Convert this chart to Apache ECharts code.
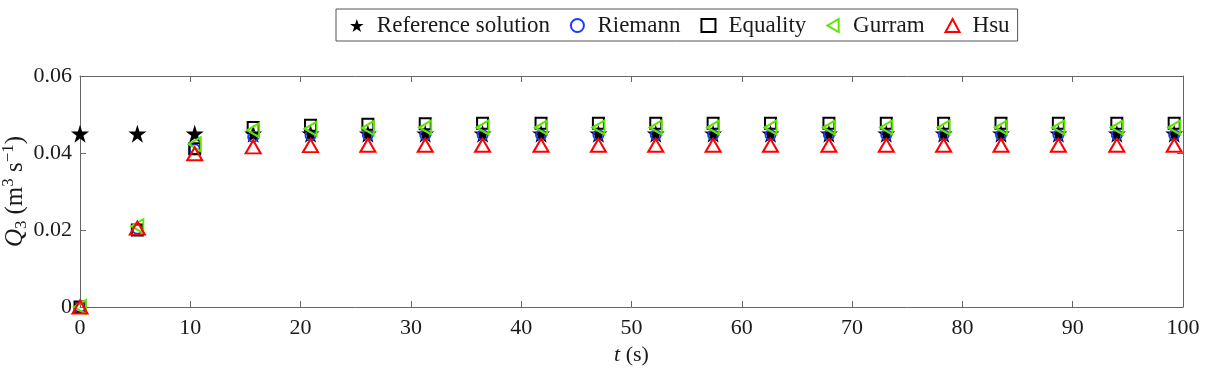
<!DOCTYPE html>
<html>
<head>
<meta charset="utf-8">
<script src="https://cdn.jsdelivr.net/npm/echarts@6/dist/echarts.min.js"></script>
<style>
  html, body { margin: 0; padding: 0; background: #fff; }
  #main { width: 1210px; height: 375px; }
</style>
</head>
<body>
<div id="main"></div>
<script>
// sample times (s)
var times = [0, 5.2, 10.4, 15.7, 20.9, 26.1, 31.3, 36.5, 41.8, 47.0,
             52.2, 57.4, 62.6, 67.9, 73.1, 78.3, 83.5, 88.7, 94.0, 99.2];

// Q3 (m^3/s)
var refQ = [0.045, 0.045, 0.045, 0.045, 0.045, 0.045, 0.045, 0.045, 0.045, 0.045,
            0.045, 0.045, 0.045, 0.045, 0.045, 0.045, 0.045, 0.045, 0.045, 0.045];
var riemannQ = [0, 0.0203, 0.0410, 0.0442, 0.0446, 0.0447, 0.0447, 0.0447, 0.0447, 0.0447,
                0.0447, 0.0447, 0.0447, 0.0447, 0.0447, 0.0447, 0.0447, 0.0447, 0.0447, 0.0447];
var equalityQ = [0, 0.0200, 0.0411, 0.0466, 0.0472, 0.0475, 0.0476, 0.0477, 0.0477, 0.0477,
                 0.0477, 0.0477, 0.0477, 0.0477, 0.0477, 0.0477, 0.0477, 0.0477, 0.0477, 0.0477];
var gurramQ = [0, 0.0210, 0.0423, 0.0459, 0.0463, 0.0465, 0.0466, 0.0466, 0.0466, 0.0466,
               0.0466, 0.0466, 0.0466, 0.0466, 0.0466, 0.0466, 0.0466, 0.0466, 0.0466, 0.0466];
var hsuQ = [0, 0.0205, 0.0398, 0.0416, 0.0419, 0.0420, 0.0420, 0.0420, 0.0420, 0.0420,
            0.0420, 0.0420, 0.0420, 0.0420, 0.0420, 0.0420, 0.0420, 0.0420, 0.0420, 0.0420];

var names = ['Reference solution', 'Riemann', 'Equality', 'Gurram', 'Hsu'];

function pairs(ys) {
  return times.map(function (t, i) { return [t, ys[i]]; });
}

var font = "'Liberation Serif', 'DejaVu Serif', serif";
var ink = '#1a1a1a';
var starPath = 'path://M50,0 L61.8,36.2 L100,36.2 L69.1,58.6 L80.9,95.1 L50,72.7 L19.1,95.1 L30.9,58.6 L0,36.2 L38.2,36.2 Z';
var leftTri = 'path://M0,50 L87,0 L87,100 Z';
var hollow = 'rgba(255,255,255,0)';

var axisLine = { onZero: false, lineStyle: { color: '#666', width: 1 } };
var tick = { inside: true, length: 6, lineStyle: { color: '#666' } };

var chart = echarts.init(document.getElementById('main'));
var option = {
  animation: false,
  textStyle: { fontFamily: font },
  grid: { left: 80, right: 27, top: 76, bottom: 68, outerBoundsMode: 'none' },
  legend: {
    left: 336, top: 9,
    padding: [5, 8, 4, 14],
    itemGap: 20,
    itemWidth: 14, itemHeight: 13,
    borderColor: '#555', borderWidth: 1,
    textStyle: { fontFamily: font, fontSize: 23, color: ink, padding: [0, 0, 0, 8] },
    data: names
  },
  xAxis: [{
    type: 'value', min: 0, max: 100, interval: 10,
    axisLine: axisLine, axisTick: tick, splitLine: { show: false },
    axisLabel: { fontFamily: font, fontSize: 22, color: ink, margin: 10 },
    name: '{i|t} (s)', nameLocation: 'middle', nameGap: 37, nameMoveOverlap: false,
    nameTextStyle: { fontFamily: font, fontSize: 22, color: ink,
      rich: { i: { fontFamily: font, fontStyle: 'italic', fontSize: 22, color: ink } } }
  }, {
    type: 'value', min: 0, max: 100, interval: 10, position: 'top',
    axisLine: axisLine, axisTick: tick, axisLabel: { show: false }, splitLine: { show: false }
  }],
  yAxis: [{
    type: 'value', min: 0, max: 0.06, interval: 0.02,
    axisLine: axisLine, axisTick: tick, splitLine: { show: false },
    axisLabel: { fontFamily: font, fontSize: 22, color: ink, margin: 8,
      formatter: function (v) { return v === 0 ? '0' : v.toFixed(2); } },
    name: '{i|Q}{sb|3} {n|(m}{sp|3}{n| s}{sp|−1}{n|)}', nameLocation: 'middle',
    nameGap: 50, nameRotate: 90, nameMoveOverlap: false,
    nameTextStyle: { fontFamily: font, fontSize: 24, color: ink,
      rich: {
        i: { fontFamily: font, fontStyle: 'italic', fontSize: 25, color: ink, lineHeight: 30, verticalAlign: 'middle' },
        n: { fontFamily: font, fontSize: 25, color: ink, lineHeight: 30, verticalAlign: 'middle' },
        sb: { fontFamily: font, fontSize: 17, color: ink, lineHeight: 30, verticalAlign: 'bottom' },
        sp: { fontFamily: font, fontSize: 17, color: ink, lineHeight: 30, verticalAlign: 'top' }
      } }
  }, {
    type: 'value', min: 0, max: 0.06, interval: 0.02, position: 'right',
    axisLine: axisLine, axisTick: tick, axisLabel: { show: false }, splitLine: { show: false }
  }],
  series: [{
    name: names[0], type: 'scatter', data: pairs(refQ),
    symbol: starPath, symbolSize: 18,
    itemStyle: { color: '#000', opacity: 1 }
  }, {
    name: names[1], type: 'scatter', data: pairs(riemannQ),
    symbol: 'circle', symbolSize: 10,
    itemStyle: { color: hollow, borderColor: '#1f3cf5', borderWidth: 2, opacity: 1 }
  }, {
    name: names[2], type: 'scatter', data: pairs(equalityQ),
    symbol: 'rect', symbolSize: 11,
    itemStyle: { color: hollow, borderColor: '#000', borderWidth: 2, opacity: 1 }
  }, {
    name: names[3], type: 'scatter', data: pairs(gurramQ),
    symbol: leftTri, symbolSize: [12, 14],
    itemStyle: { color: hollow, borderColor: '#5fe600', borderWidth: 2, opacity: 1 }
  }, {
    name: names[4], type: 'scatter', data: pairs(hsuQ),
    symbol: 'triangle', symbolSize: [15, 13],
    itemStyle: { color: hollow, borderColor: '#ff0000', borderWidth: 2, opacity: 1 }
  }]
};
chart.setOption(option);
</script>
</body>
</html>
